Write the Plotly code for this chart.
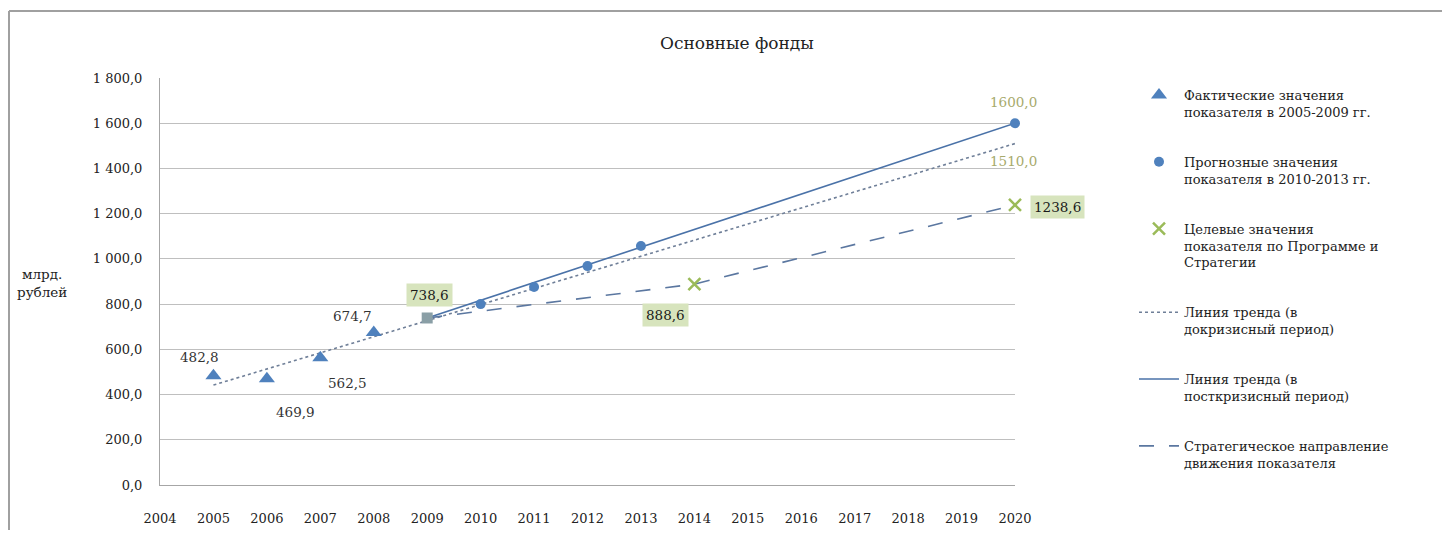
import plotly.graph_objects as go

# ---- data ----
years_actual = [2005, 2006, 2007, 2008]
vals_actual = [482.8, 469.9, 562.5, 674.7]
year_base = [2009]
val_base = [738.6]
years_forecast = [2010, 2011, 2012, 2013, 2020]
vals_forecast = [800.0, 876.0, 968.0, 1057.0, 1600.0]
years_target = [2014, 2020]
vals_target = [888.6, 1238.6]
years_trend_pre = [2005, 2020]
vals_trend_pre = [442.0, 1510.0]
years_trend_post = [2009, 2020]
vals_trend_post = [738.6, 1600.0]
years_strategy = [2009, 2014, 2020]
vals_strategy = [738.6, 888.6, 1238.6]

y_tickvals = [0, 200, 400, 600, 800, 1000, 1200, 1400, 1600, 1800]
y_ticktext = ["0,0", "200,0", "400,0", "600,0", "800,0", "1 000,0", "1 200,0",
              "1 400,0", "1 600,0", "1 800,0"]
x_tickvals = list(range(2004, 2021))

legend_names = [
    "Фактические значения<br>показателя в 2005-2009 гг.",
    "Прогнозные значения<br>показателя в 2010-2013 гг.",
    "Целевые значения<br>показателя по Программе и<br>Стратегии",
    "Линия тренда (в<br>докризисный период)",
    "Линия тренда (в<br>посткризисный период)",
    "Стратегическое направление<br>движения показателя",
]

# labels: (x, y, text, kind, xshift, yshift)
labels = [
    (2005, 482.8, "482,8", "plain", -14, 19),
    (2006, 469.9, "469,9", "plain", 29, -33),
    (2007, 562.5, "562,5", "plain", 27, -25),
    (2008, 674.7, "674,7", "plain", -21, 16),
    (2009, 738.6, "738,6", "box", 2, 23),
    (2014, 888.6, "888,6", "box", -29, -31),
    (2020, 1238.6, "1238,6", "box", 42, -2),
    (2020, 1600.0, "1600,0", "olive", -2, 21),
    (2020, 1510.0, "1510,0", "olive", -2, -17),
]

SERIF = "DejaVu Serif"
BLUE = "#4F81BD"
GREEN = "#9BBB59"

# page geometry (body has an 8px margin)
PL, PT = 160, 78          # plot area top-left on the page
PW, PH = 855, 407         # plot area size
OFF = 8
FIG_W, FIG_H = 1435, 522


def px(xp):
    return (xp - PL) / PW


def py(yp):
    return (PT + PH - yp) / PH


fig = go.Figure()

# lines first (drawn underneath)
fig.add_trace(go.Scatter(x=years_trend_pre, y=vals_trend_pre, mode="lines",
                         name=legend_names[3], legendrank=4, legendgroup="g4",
                         line=dict(color="#6F7F98", width=1.6, dash="dot")))
fig.add_trace(go.Scatter(x=years_trend_post, y=vals_trend_post, mode="lines",
                         name=legend_names[4], legendrank=5, legendgroup="g5",
                         line=dict(color="#4A72A8", width=1.6)))
fig.add_trace(go.Scatter(x=years_strategy, y=vals_strategy, mode="lines",
                         name=legend_names[5], legendrank=6, legendgroup="g6",
                         line=dict(color="#5B77A0", width=1.6, dash="longdash")))

# markers
fig.add_trace(go.Scatter(x=years_actual, y=vals_actual, mode="markers",
                         name=legend_names[0], legendrank=1, legendgroup="g1",
                         marker=dict(symbol="triangle-up", size=14, color=BLUE)))
fig.add_trace(go.Scatter(x=years_forecast, y=vals_forecast, mode="markers",
                         name=legend_names[1], legendrank=2, legendgroup="g2",
                         marker=dict(symbol="circle", size=10, color=BLUE)))
fig.add_trace(go.Scatter(x=years_target, y=vals_target, mode="markers",
                         name=legend_names[2], legendrank=3, legendgroup="g3",
                         marker=dict(symbol="x-thin", size=12, color=GREEN,
                                     line=dict(color=GREEN, width=2.5))))
fig.add_trace(go.Scatter(x=year_base, y=val_base, mode="markers", showlegend=False,
                         marker=dict(symbol="square", size=11, color="#8A9FA6")))

annotations = []
for x, y, t, kind, dx, dy in labels:
    a = dict(x=x, y=y, xref="x", yref="y", text=t, showarrow=False,
             xshift=dx, yshift=dy, font=dict(family=SERIF, size=13.5, color="#333333"))
    if kind == "box":
        a["bgcolor"] = "#D7E4BD"
        a["borderpad"] = 3
        a["font"] = dict(family=SERIF, size=13.5, color="#1a1a1a")
    elif kind == "olive":
        a["font"] = dict(family=SERIF, size=13.5, color="#A7AA6C")
    annotations.append(a)

annotations.append(dict(x=px(737), y=py(43), xref="paper", yref="paper",
                        xanchor="center", yanchor="middle", text="Основные фонды",
                        showarrow=False, font=dict(family=SERIF, size=17, color="#222222")))
annotations.append(dict(text="млрд.<br>рублей", showarrow=False,
                        xref="paper", yref="paper", xanchor="center", yanchor="middle",
                        x=px(42), y=py(283),
                        font=dict(family=SERIF, size=13.5, color="#222222")))

fig.update_layout(
    width=FIG_W, height=FIG_H,
    margin=dict(l=PL - OFF, r=FIG_W - (PL - OFF) - PW, t=PT - OFF,
                b=FIG_H - (PT - OFF) - PH, autoexpand=False),
    paper_bgcolor="white", plot_bgcolor="white",
    annotations=annotations,
    legend=dict(x=px(1134), y=py(80), xanchor="left", yanchor="top",
                font=dict(family=SERIF, size=13, color="#222222"),
                traceorder="grouped", tracegroupgap=30, valign="top", itemwidth=40,
                bgcolor="rgba(0,0,0,0)"),
    xaxis=dict(range=[2004, 2020], tickmode="array", tickvals=x_tickvals,
               ticktext=[str(v) for v in x_tickvals], showgrid=False,
               showline=True, linecolor="#A6A6A6", linewidth=1,
               ticks="outside", ticklen=21, tickcolor="rgba(0,0,0,0)",
               tickfont=dict(family=SERIF, size=13, color="#222222"),
               zeroline=False, automargin=False),
    yaxis=dict(range=[0, 1800], tickmode="array", tickvals=y_tickvals, ticktext=y_ticktext,
               showgrid=True, gridcolor="#BFBFBF", gridwidth=1,
               showline=True, linecolor="#A6A6A6", linewidth=1, ticks="",
               tickfont=dict(family=SERIF, size=13, color="#222222"),
               ticklabelstandoff=14, zeroline=False, automargin=False),
    shapes=[
        dict(type="line", xref="paper", yref="paper", x0=px(9), x1=px(9),
             y0=py(530), y1=py(11), line=dict(color="#A0A0A0", width=2), layer="below"),
        dict(type="line", xref="paper", yref="paper", x0=px(9), x1=px(1442),
             y0=py(11), y1=py(11), line=dict(color="#A0A0A0", width=2), layer="below"),
    ],
)
fig.update_traces(cliponaxis=False)

fig.write_html("out.html")
